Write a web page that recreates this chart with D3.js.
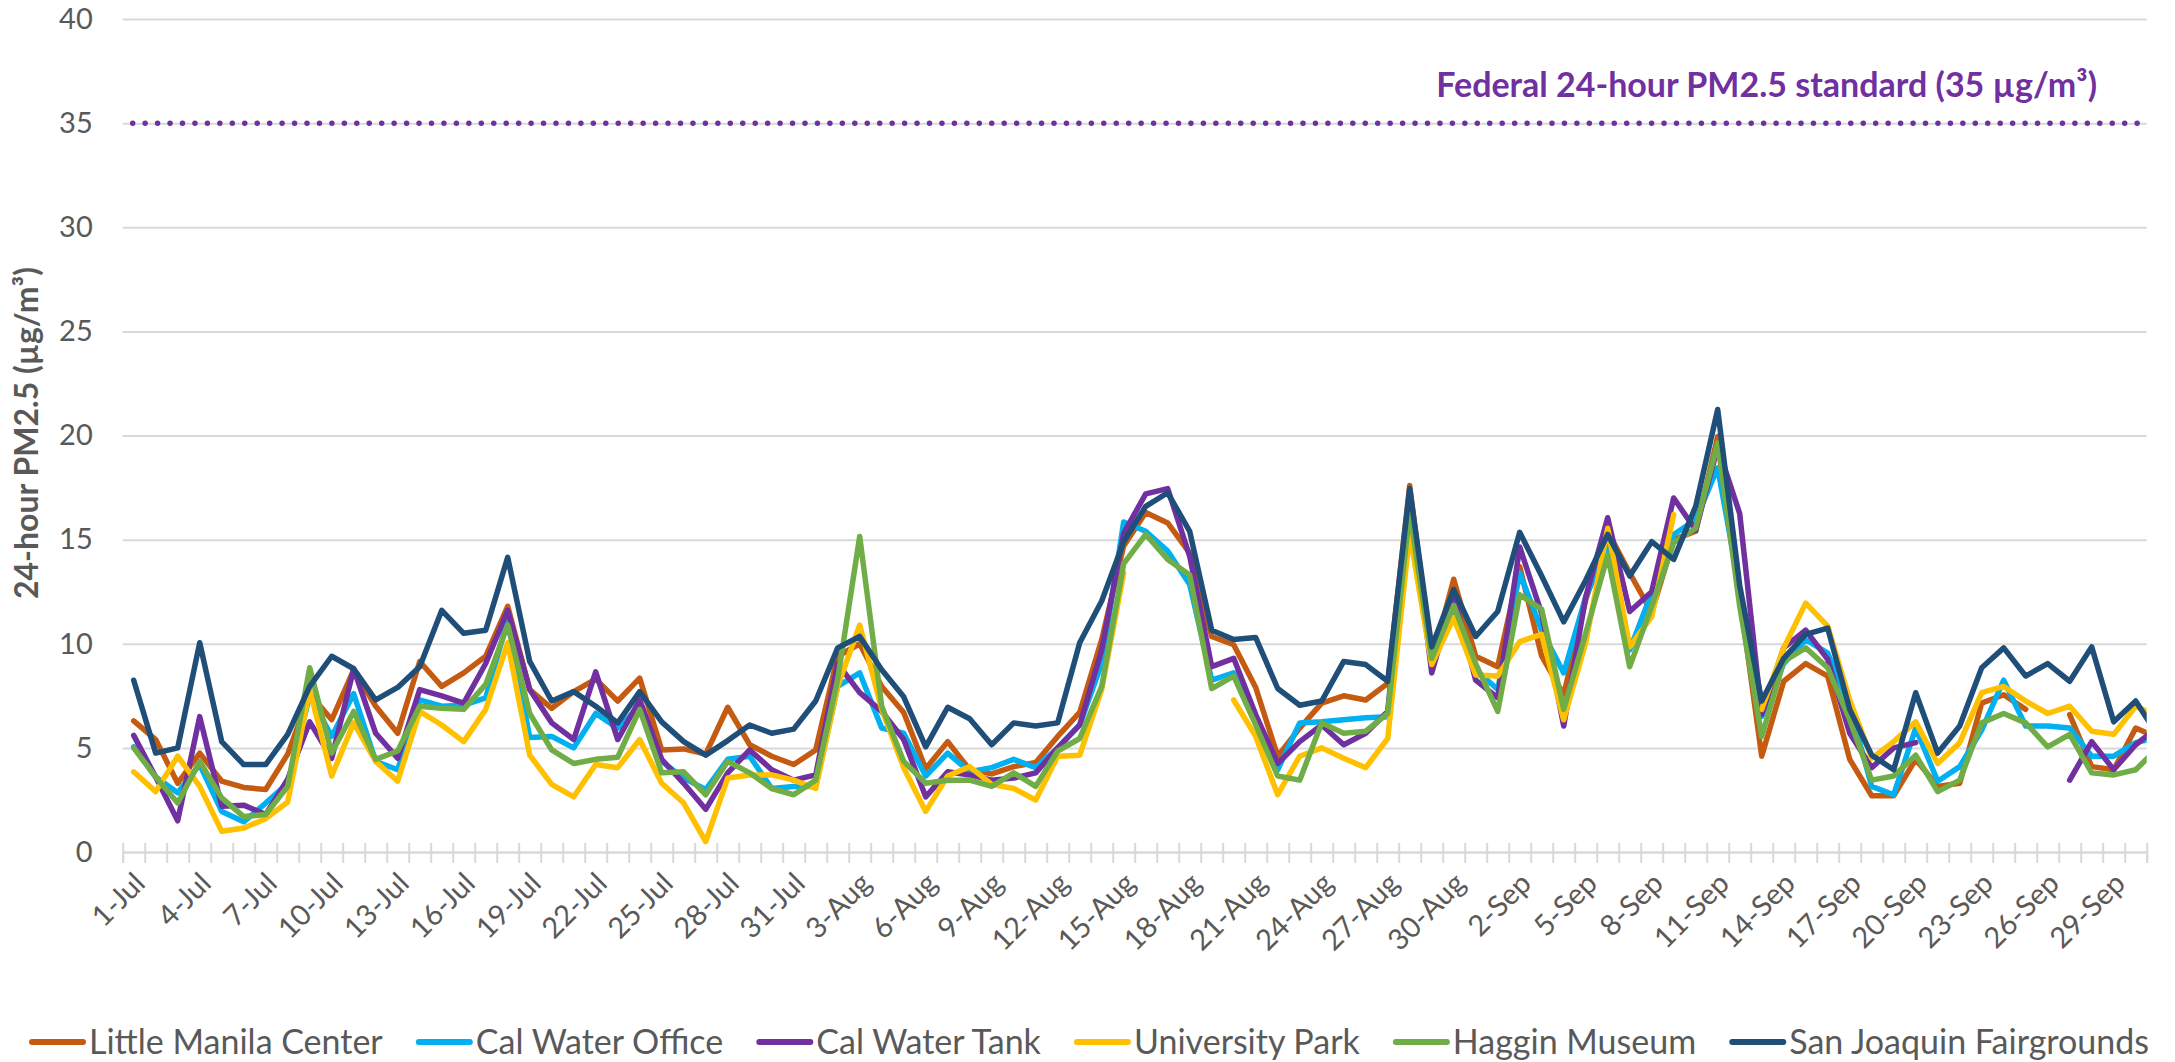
<!DOCTYPE html>
<html>
<head>
<meta charset="utf-8">
<script src="https://cdn.jsdelivr.net/npm/d3@7/dist/d3.min.js"></script>
<style>
  body { margin: 0; background: #fff; }
  svg { display: block; font-family: Lato, "Open Sans", sans-serif; }
</style>
</head>
<body>
<svg id="chart" width="2175" height="1062"></svg>
<script>
// categories: one per day, 1-Jul .. 30-Sep
var days = d3.timeDay.range(new Date(2020, 6, 1), new Date(2020, 9, 1)).map(d3.timeFormat("%-d-%b"));

var stations = ["Little Manila Center", "Cal Water Office", "Cal Water Tank", "University Park", "Haggin Museum", "San Joaquin Fairgrounds"];
var colors = ["#c55a11", "#00b0f0", "#7030a0", "#ffc000", "#70ad47", "#1f4e79"];

var standard = 35;
var standardLabel = "Federal 24-hour PM2.5 standard (35 µg/m³)";
var yTicks = [0, 5, 10, 15, 20, 25, 30, 35, 40];

// daily values (µg/m³); the last value of each series is 1-Oct, cut off at the chart edge
var littleManila = [6.3, 5.4, 3.3, 4.75, 3.4, 3.1, 3.0, 4.7, 7.6, 6.35, 8.75, 7.0, 5.7, 9.15, 7.95,
  8.6, 9.4, 11.8, 7.8, 6.9, 7.7, 8.3, 7.25, 8.35, 4.9, 4.95, 4.7, 6.95, 5.15, 4.6, 4.2,
  4.9, 9.4, 10.0, 7.95, 6.7, 4.0, 5.3, 3.95, 3.75, 4.1, 4.3, 5.55, 6.7, 10.2, 14.7,
  16.3, 15.8, 14.35, 10.35, 9.95, 7.9, 4.6, 5.95, 7.15, 7.5, 7.3, 8.1, 17.6, 9.1, 13.1,
  9.4, 8.9, 13.7, 9.4, 7.55, 12.1, 15.4, 13.4, 11.5, 15.0, 15.4, 19.95, 12.3, 4.6, 8.2, 9.05, 8.45,
  4.45, 2.7, 2.7, 4.45, 3.15, 3.3, 7.15, 7.55, 6.85, null, 6.6, 4.1, 3.95, 5.95, 5.5];
var calWaterOffice = [5.05, 3.6, 2.85, 4.2, 1.95, 1.45, 2.35, 3.3, 7.5, 5.55, 7.6, 4.35, 3.95, 7.3, 7.0,
  7.05, 7.4, 11.15, 5.5, 5.55, 5.0, 6.65, 5.95, 7.0, 4.35, 3.55, 3.0, 4.45, 4.6, 3.05, 3.15,
  3.15, 7.95, 8.6, 5.95, 5.7, 3.65, 4.75, 3.85, 4.05, 4.45, 4.05, 5.0, 6.1, 9.05, 15.85,
  15.4, 14.45, 12.85, 8.25, 8.6, 6.35, 3.95, 6.2, 6.25, 6.35, 6.45, 6.5, 17.05, 9.4, 11.45,
  8.75, 7.8, 13.4, 10.65, 8.6, 12.25, 14.65, 9.7, 12.45, 15.25, 15.95, 18.45, 12.6, 6.5, 9.05, 10.2, 9.55,
  7.0, 3.15, 2.75, 5.95, 3.4, 4.1, 5.85, 8.25, 6.05, 6.05, 5.95, 4.6, 4.6, 5.25, 5.5];
var calWaterTank = [5.6, 3.6, 1.5, 6.5, 2.2, 2.25, 1.8, 3.5, 6.25, 4.5, 8.8, 5.7, 4.5, 7.8, 7.5,
  7.15, 9.05, 11.6, 7.8, 6.2, 5.4, 8.65, 5.4, 7.3, 4.45, 3.3, 2.05, 3.8, 4.9, 3.95, 3.45,
  3.7, 9.05, 7.65, 6.75, 5.4, 2.65, 3.85, 3.7, 3.45, 3.55, 3.8, 5.0, 6.1, 9.7, 15.3,
  17.2, 17.45, 14.2, 8.9, 9.3, 6.6, 4.25, 5.3, 6.1, 5.15, 5.7, 6.75, 17.3, 8.6, 12.3,
  8.25, 7.4, 14.65, 11.45, 6.05, 12.25, 16.05, 11.55, 12.5, 17.0, 15.45, 19.45, 16.25, 6.6, 9.8, 10.65, 9.25,
  5.7, 4.05, 5.0, 5.25, null, null, null, null, null, null, 3.45, 5.3, 3.95, 5.15, 6.0];
var universityPark = [3.85, 2.9, 4.6, 3.15, 1.0, 1.15, 1.6, 2.4, 7.8, 3.65, 6.2, 4.35, 3.4, 6.75, 6.1,
  5.3, 6.85, 10.05, 4.65, 3.25, 2.65, 4.2, 4.05, 5.4, 3.3, 2.35, 0.5, 3.55, 3.7, 3.7, 3.45,
  3.05, 7.95, 10.9, 6.85, 4.05, 1.95, 3.65, 4.1, 3.25, 3.05, 2.5, 4.6, 4.65, 7.8, 13.4,
  null, null, null, null, 7.3, 5.55, 2.75, 4.6, 5.0, 4.5, 4.05, 5.45, 15.3, 9.0, 11.25,
  8.5, 8.45, 10.1, 10.45, 6.35, 10.05, 15.55, 9.85, 11.3, 16.2, null, null, null, 6.85, 9.8, 11.95, 10.85,
  7.3, 4.5, 5.3, 6.25, 4.25, 5.25, 7.65, 7.95, 7.25, 6.65, 7.0, 5.8, 5.65, 7.0, 6.5];
var hagginMuseum = [5.0, 3.6, 2.35, 4.35, 2.6, 1.7, 1.8, 3.15, 8.85, 4.75, 6.75, 4.45, 4.85, 7.0, 6.9,
  6.85, 8.05, 10.9, 6.65, 4.9, 4.25, 4.45, 4.55, 6.85, 3.8, 3.85, 2.75, 4.35, 3.8, 3.05, 2.75,
  3.45, 8.3, 15.15, 7.0, 4.35, 3.3, 3.45, 3.45, 3.15, 3.8, 3.15, 4.85, 5.45, 7.95, 13.85,
  15.25, 14.05, 13.3, 7.85, 8.45, 6.1, 3.65, 3.45, 6.2, 5.7, 5.8, 6.65, 16.35, 9.3, 11.85,
  9.05, 6.75, 12.35, 11.65, 6.85, 10.5, 14.25, 8.9, 11.8, 14.85, 15.55, 19.65, 11.8, 5.55, 9.15, 9.8, 8.85,
  6.35, 3.45, 3.65, 4.65, 2.9, 3.45, 6.2, 6.65, 6.2, 5.05, 5.65, 3.8, 3.7, 3.95, 5.0];
var sjFairgrounds = [8.25, 4.75, 5.0, 10.05, 5.3, 4.2, 4.2, 5.65, 7.95, 9.4, 8.8, 7.3, 7.9, 8.9, 11.6,
  10.5, 10.65, 14.15, 9.15, 7.25, 7.7, 7.0, 6.2, 7.7, 6.25, 5.3, 4.65, 5.35, 6.1, 5.7, 5.9,
  7.25, 9.8, 10.35, 8.75, 7.45, 5.05, 6.95, 6.4, 5.15, 6.2, 6.05, 6.2, 10.05, 12.05, 14.9,
  16.6, 17.25, 15.4, 10.65, 10.2, 10.3, 7.85, 7.05, 7.25, 9.15, 9.0, 8.2, 17.45, 9.85, 12.6,
  10.35, 11.55, 15.35, 13.25, 11.05, 13.05, 15.25, 13.25, 14.9, 14.05, 16.6, 21.25, 12.8, 7.25, 9.3, 10.45, 10.75,
  6.85, 4.65, 3.95, 7.65, 4.75, 6.05, 8.85, 9.8, 8.45, 9.05, 8.2, 9.85, 6.25, 7.25, 5.6];

var series = [littleManila, calWaterOffice, calWaterTank, universityPark, hagginMuseum, sjFairgrounds];

var svg = d3.select("#chart");
var plotLeft = 122.7, plotRight = 2146.7, plotTop = 19, plotBottom = 852;
var textColor = "#595959";
var gridColor = "#d9d9d9";

var x = d3.scaleLinear().domain([0, days.length]).range([plotLeft, plotRight]);
var y = d3.scaleLinear().domain([0, 40]).range([plotBottom, plotTop]);

// gridlines + y tick labels
var yAxis = svg.append("g")
    .attr("transform", "translate(" + plotLeft + ",0)")
    .call(d3.axisLeft(y).tickValues(yTicks).tickSize(-(plotRight - plotLeft)).tickPadding(30));
yAxis.select(".domain").remove();
yAxis.selectAll("line").attr("stroke", gridColor).attr("stroke-width", 2);
yAxis.selectAll("text")
    .attr("fill", textColor)
    .style("font-size", "29px")
    .style("font-family", "Lato, sans-serif");

// category axis: tick marks between days crossing the baseline
var xAxis = svg.append("g")
    .attr("transform", "translate(0," + plotBottom + ")")
    .call(d3.axisBottom(x).tickValues(d3.range(0, days.length + 1)).tickSize(11).tickFormat(""));
xAxis.select(".domain").attr("stroke", gridColor).attr("stroke-width", 2);
xAxis.selectAll(".tick line").attr("stroke", gridColor).attr("stroke-width", 2).attr("y1", -9);

svg.append("g")
    .selectAll("text")
    .data(days.filter(function (d, i) { return i % 3 === 0; }))
    .enter().append("text")
    .attr("transform", function (d) {
      var i = days.indexOf(d);
      return "translate(" + (x(i + 0.5) + 6) + "," + (plotBottom + 26) + ") rotate(-45)";
    })
    .attr("text-anchor", "end")
    .attr("dy", "0.35em")
    .attr("fill", textColor)
    .style("font-size", "29px")
    .text(function (d) { return d; });

// y axis title
svg.append("text")
    .attr("transform", "translate(38,433) rotate(-90)")
    .attr("text-anchor", "middle")
    .attr("fill", textColor)
    .style("font-size", "32px")
    .style("font-weight", "bold")
    .text("24-hour PM2.5 (µg/m³)");

// federal standard line
svg.append("line")
    .attr("x1", plotLeft + 10).attr("x2", plotRight)
    .attr("y1", y(standard)).attr("y2", y(standard))
    .attr("stroke", "#7030a0")
    .attr("stroke-width", 5.5)
    .attr("stroke-linecap", "round")
    .attr("stroke-dasharray", "0 12.45");

svg.append("text")
    .attr("x", 2097).attr("y", 97)
    .attr("text-anchor", "end")
    .attr("fill", "#7030a0")
    .style("font-size", "34px")
    .style("font-weight", "bold")
    .text(standardLabel);

// series lines
svg.append("clipPath").attr("id", "plot-clip")
  .append("rect")
    .attr("x", plotLeft).attr("y", 0)
    .attr("width", plotRight - plotLeft).attr("height", plotBottom + 10);

var line = d3.line()
    .defined(function (d) { return d != null; })
    .x(function (d, i) { return x(i + 0.5); })
    .y(function (d) { return y(d); });

svg.append("g")
    .attr("clip-path", "url(#plot-clip)")
    .selectAll("path")
    .data(series)
    .enter().append("path")
    .attr("fill", "none")
    .attr("stroke", function (d, i) { return colors[i]; })
    .attr("stroke-width", 5.5)
    .attr("stroke-linejoin", "round")
    .attr("stroke-linecap", "round")
    .attr("d", line);

// legend spread across the bottom, from x=29 to x=2149
var legend = svg.append("g").attr("transform", "translate(0,1042)");
var items = legend.selectAll("g")
    .data(stations)
    .enter().append("g");
items.append("line")
    .attr("x1", 3).attr("x2", 54)
    .attr("stroke", function (d, i) { return colors[i]; })
    .attr("stroke-width", 6)
    .attr("stroke-linecap", "round");
items.append("text")
    .attr("x", 60)
    .attr("dy", "0.36em")
    .attr("fill", textColor)
    .style("font-size", "34px")
    .text(function (d) { return d; });

function layoutLegend() {
  var widths = [];
  items.each(function () { widths.push(60 + this.querySelector("text").getComputedTextLength()); });
  var gap = (2149 - 29 - d3.sum(widths)) / (widths.length - 1);
  var pos = 29;
  items.attr("transform", function (d, i) {
    var t = "translate(" + pos + ",0)";
    pos += widths[i] + gap;
    return t;
  });
}
layoutLegend();
if (document.fonts) document.fonts.ready.then(layoutLegend);
</script>
</body>
</html>
